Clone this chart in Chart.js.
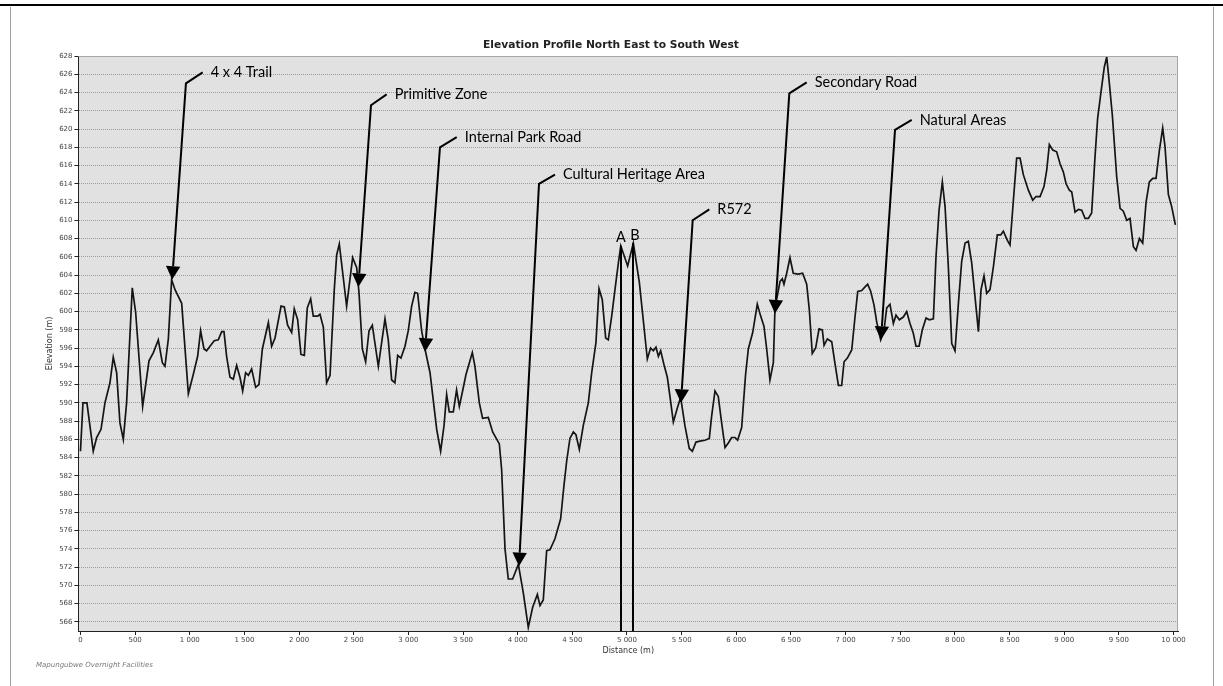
<!DOCTYPE html>
<html>
<head>
<meta charset="utf-8">
<script src="https://cdn.jsdelivr.net/npm/chart.js@4.4.1/dist/chart.umd.min.js"></script>
<style>
  html, body { margin: 0; padding: 0; background: #fff; }
  #wrap { width: 1223px; height: 686px; }
</style>
</head>
<body>
<div id="wrap"><canvas id="perfil" width="1223" height="686"></canvas></div>
<script>
// distance along the profile (m) and elevation (m)
const distance = [
  0, 23, 59, 117, 148, 188, 224, 270, 300, 331, 361, 392, 422, 474, 505, 569, 627, 667, 712, 749,
  773, 804, 834, 865, 926, 987, 1032, 1072, 1099, 1130, 1154, 1185, 1224, 1261, 1292, 1313, 1337, 1368, 1398, 1429,
  1459, 1484, 1511, 1536, 1566, 1603, 1633, 1664, 1719, 1749, 1780, 1835, 1865, 1895, 1932, 1956, 1987, 2017, 2048, 2075,
  2106, 2130, 2170, 2191, 2222, 2252, 2283, 2322, 2344, 2368, 2435, 2490, 2527, 2548, 2579, 2609, 2640, 2670, 2725, 2786,
  2816, 2847, 2877, 2902, 2932, 2969, 2999, 3030, 3060, 3085, 3121, 3152, 3198, 3259, 3295, 3326, 3350, 3374, 3411, 3441,
  3466, 3496, 3527, 3585, 3609, 3649, 3679, 3731, 3771, 3832, 3853, 3884, 3914, 3954, 4006, 4051, 4097, 4137, 4180, 4204,
  4234, 4265, 4295, 4341, 4393, 4423, 4448, 4478, 4509, 4533, 4564, 4600, 4646, 4677, 4716, 4744, 4774, 4805, 4829, 4860,
  4890, 4921, 4943, 5006, 5058, 5113, 5186, 5216, 5241, 5265, 5287, 5308, 5338, 5369, 5393, 5424, 5460, 5491, 5530, 5570,
  5598, 5631, 5668, 5713, 5753, 5775, 5805, 5835, 5866, 5897, 5927, 5957, 5988, 6012, 6049, 6070, 6085, 6110, 6150, 6192,
  6223, 6253, 6278, 6308, 6339, 6354, 6375, 6400, 6421, 6436, 6461, 6491, 6521, 6567, 6607, 6644, 6668, 6695, 6726, 6757,
  6787, 6803, 6833, 6873, 6903, 6934, 6964, 6986, 7016, 7056, 7086, 7111, 7147, 7178, 7202, 7230, 7260, 7284, 7321, 7352,
  7376, 7406, 7437, 7461, 7492, 7528, 7559, 7589, 7620, 7644, 7672, 7702, 7736, 7766, 7803, 7827, 7855, 7885, 7910, 7940,
  7971, 8001, 8032, 8062, 8093, 8123, 8154, 8184, 8215, 8239, 8266, 8291, 8321, 8352, 8388, 8419, 8443, 8480, 8504, 8535,
  8565, 8596, 8626, 8672, 8712, 8742, 8779, 8815, 8840, 8864, 8895, 8931, 8962, 8992, 9017, 9047, 9069, 9099, 9130, 9160,
  9191, 9221, 9251, 9282, 9306, 9337, 9367, 9389, 9413, 9441, 9480, 9511, 9541, 9572, 9602, 9633, 9657, 9688, 9718, 9749,
  9779, 9810, 9840, 9871, 9901, 9922, 9953, 9983, 10017
];
const elevation = [
  584.7, 590.0, 590.0, 584.7, 586.2, 587.1, 590.0, 592.2, 595.0, 593.3, 587.8, 586.0, 590.0, 602.6, 599.9, 589.6, 594.6, 595.5, 596.9, 594.4,
  594.0, 597.0, 603.5, 602.4, 600.9, 591.0, 593.1, 595.1, 597.9, 595.9, 595.7, 596.2, 596.8, 596.9, 597.8, 597.8, 595.1, 592.8, 592.6, 594.1,
  592.8, 591.3, 593.3, 593.0, 593.7, 591.7, 592.0, 595.9, 598.8, 596.2, 597.1, 600.6, 600.5, 598.5, 597.7, 600.3, 599.1, 595.3, 595.2, 600.4,
  601.4, 599.5, 599.5, 599.7, 598.3, 592.2, 593.0, 602.4, 606.2, 607.4, 600.6, 605.9, 604.8, 602.1, 595.9, 594.5, 597.9, 598.5, 594.0, 599.2,
  596.9, 592.5, 592.2, 595.2, 594.9, 596.2, 597.9, 600.6, 602.1, 602.0, 597.9, 595.9, 593.3, 587.1, 584.7, 587.5, 590.9, 589.0, 589.0, 591.4,
  589.6, 591.3, 593.1, 595.5, 594.0, 590.0, 588.3, 588.4, 586.8, 585.5, 582.7, 574.0, 570.7, 570.7, 572.3, 569.2, 565.4, 567.6, 569.0, 567.8,
  568.4, 573.8, 573.9, 575.1, 577.3, 580.9, 583.6, 586.1, 586.8, 586.5, 584.9, 587.5, 590.0, 593.3, 596.6, 602.5, 601.3, 597.1, 596.9, 599.5,
  602.4, 605.3, 607.2, 605.0, 607.5, 603.2, 594.8, 596.0, 595.7, 596.1, 595.1, 595.7, 594.2, 592.8, 590.7, 587.9, 589.4, 590.6, 587.5, 585.0,
  584.7, 585.7, 585.8, 585.9, 586.1, 588.6, 591.3, 590.7, 587.8, 585.1, 585.6, 586.2, 586.2, 585.9, 587.3, 590.7, 593.1, 595.9, 597.7, 600.8,
  599.5, 598.4, 595.9, 592.5, 594.4, 600.4, 601.7, 603.3, 603.6, 603.0, 604.2, 605.9, 604.2, 604.1, 604.2, 603.0, 600.2, 595.4, 596.0, 598.1,
  598.0, 596.3, 597.0, 596.7, 594.3, 591.9, 591.9, 594.5, 594.9, 595.8, 599.4, 602.2, 602.3, 602.7, 603.0, 602.2, 600.7, 598.9, 596.9, 598.0,
  600.4, 600.8, 598.7, 599.6, 599.1, 599.4, 600.0, 598.7, 597.6, 596.2, 596.2, 598.0, 599.3, 599.1, 599.2, 606.0, 611.1, 614.2, 611.5, 604.9,
  596.5, 595.7, 600.9, 605.5, 607.5, 607.7, 605.3, 601.6, 597.8, 602.4, 603.9, 602.0, 602.4, 604.9, 608.4, 608.4, 608.8, 607.8, 607.3, 612.2,
  616.8, 616.8, 615.0, 613.3, 612.2, 612.6, 612.6, 613.7, 615.5, 618.3, 617.7, 617.5, 616.2, 615.3, 614.0, 613.3, 613.1, 610.9, 611.2, 611.1,
  610.2, 610.2, 610.8, 617.0, 621.2, 624.1, 626.8, 627.9, 625.0, 621.4, 614.8, 611.3, 611.0, 610.0, 610.2, 607.1, 606.7, 608.0, 607.5, 612.0,
  614.2, 614.6, 614.6, 617.7, 620.1, 618.1, 612.8, 611.5, 609.5
];

const xTicks = [0, 500, 1000, 1500, 2000, 2500, 3000, 3500, 4000, 4500, 5000,
  5500, 6000, 6500, 7000, 7500, 8000, 8500, 9000, 9500, 10000];
const yTicks = [566, 568, 570, 572, 574, 576, 578, 580, 582, 584, 586, 588, 590, 592, 594, 596,
  598, 600, 602, 604, 606, 608, 610, 612, 614, 616, 618, 620, 622, 624, 626, 628];

// callouts: label, arrow tip, elbow and end of the leader (distance, elevation)
const calloutLabels = ['4 x 4 Trail', 'Primitive Zone', 'Internal Park Road', 'Cultural Heritage Area',
  'R572', 'Secondary Road', 'Natural Areas'];
const calloutTip = [[839, 603.5], [2542, 602.7], [3152, 595.6], [4012, 572.1], [5494, 590.0], [6354, 599.8], [7324, 596.9]];
const calloutElbow = [[965, 625.0], [2658, 622.6], [3289, 618.0], [4195, 614.0], [5601, 610.0], [6485, 623.9], [7452, 619.9]];
const calloutEnd = [[1118, 626.2], [2801, 623.8], [3442, 619.1], [4341, 615.0], [5753, 611.2], [6644, 625.1], [7605, 621.0]];

// section markers A and B
const markerLabels = ['A', 'B'];
const markerDist = [4943, 5056];
const markerElev = [607.2, 607.5];

const chartTitle = 'Elevation Profile North East to South West';
const footerText = 'Mapungubwe Overnight Facilities';

function spaced(v) {
  return String(v).replace(/\B(?=(\d{3})+(?!\d))/g, ' ');
}

const framePlugin = {
  id: 'frame',
  beforeDraw(chart) {
    const {ctx, chartArea, width, height} = chart;
    ctx.save();
    ctx.fillStyle = '#fff';
    ctx.fillRect(0, 0, width, height);
    ctx.fillStyle = '#000';
    ctx.fillRect(0, 4, width, 2);
    ctx.fillStyle = '#a0a0a0';
    ctx.fillRect(10, 7, 1, height);
    ctx.fillRect(1213, 7, 1, height);
    ctx.fillStyle = '#e1e1e1';
    ctx.fillRect(chartArea.left, chartArea.top, chartArea.width, chartArea.height);
    ctx.restore();
  },
  afterDraw(chart) {
    const {ctx, chartArea} = chart;
    ctx.save();
    ctx.strokeStyle = '#a8a8a8';
    ctx.lineWidth = 1;
    ctx.beginPath();
    ctx.moveTo(chartArea.left, chartArea.top + 0.5);
    ctx.lineTo(chartArea.right - 0.5, chartArea.top + 0.5);
    ctx.lineTo(chartArea.right - 0.5, chartArea.bottom);
    ctx.stroke();
    ctx.font = 'italic 7px "DejaVu Sans"';
    ctx.fillStyle = '#777';
    ctx.textBaseline = 'middle';
    ctx.fillText(footerText, 36, 665);
    ctx.restore();
  }
};

const calloutPlugin = {
  id: 'callouts',
  afterDatasetsDraw(chart) {
    const {ctx, chartArea} = chart;
    const x = chart.scales.x, y = chart.scales.y;
    ctx.save();
    ctx.strokeStyle = '#000';
    ctx.fillStyle = '#000';
    ctx.lineWidth = 2;
    ctx.font = '14.5px Lato';

    markerDist.forEach((d, i) => {
      const px = Math.round(x.getPixelForValue(d));
      const top = y.getPixelForValue(markerElev[i]);
      ctx.beginPath();
      ctx.moveTo(px, top);
      ctx.lineTo(px, chartArea.bottom);
      ctx.stroke();
      ctx.textAlign = 'center';
      ctx.textBaseline = 'bottom';
      ctx.fillText(markerLabels[i], px + i * 2, top - 1);
    });

    calloutLabels.forEach((txt, i) => {
      const tx = x.getPixelForValue(calloutTip[i][0]), ty = y.getPixelForValue(calloutTip[i][1]);
      const ex = x.getPixelForValue(calloutElbow[i][0]), ey = y.getPixelForValue(calloutElbow[i][1]);
      const lx = x.getPixelForValue(calloutEnd[i][0]), ly = y.getPixelForValue(calloutEnd[i][1]);
      const ang = Math.atan2(ty - ey, tx - ex);
      const headLen = 13.5, headHalf = 7.2;
      const bx = tx - headLen * Math.cos(ang), by = ty - headLen * Math.sin(ang);

      ctx.beginPath();
      ctx.moveTo(lx, ly);
      ctx.lineTo(ex, ey);
      ctx.lineTo(bx, by);
      ctx.stroke();

      ctx.beginPath();
      ctx.moveTo(tx, ty);
      ctx.lineTo(bx + headHalf * Math.sin(ang), by - headHalf * Math.cos(ang));
      ctx.lineTo(bx - headHalf * Math.sin(ang), by + headHalf * Math.cos(ang));
      ctx.closePath();
      ctx.fill();

      ctx.textAlign = 'left';
      ctx.textBaseline = 'middle';
      ctx.fillText(txt, lx + 8, ly);
    });
    ctx.restore();
  }
};

const points = distance.map((d, i) => ({x: d, y: elevation[i]}));

new Chart(document.getElementById('perfil'), {
  type: 'line',
  data: {
    datasets: [{
      data: points,
      borderColor: '#151515',
      borderWidth: 1.7,
      pointRadius: 0,
      tension: 0,
      fill: false
    }]
  },
  options: {
    responsive: false,
    animation: false,
    devicePixelRatio: 1,
    layout: { padding: { left: 44, right: 45, top: 0, bottom: 0 } },
    plugins: {
      legend: { display: false },
      tooltip: { enabled: false },
      title: {
        display: true,
        text: chartTitle,
        color: '#222',
        font: { family: 'DejaVu Sans', size: 10.7, weight: 'bold', lineHeight: 1 },
        padding: { top: 40, bottom: 5.3 }
      }
    },
    scales: {
      x: {
        type: 'linear',
        min: -18,
        max: 10041,
        afterBuildTicks: s => { s.ticks = xTicks.map(v => ({value: v})); },
        afterFit: s => { s.height = 55; },
        ticks: {
          autoSkip: false,
          maxRotation: 0,
          padding: 1,
          color: '#444',
          font: { family: 'DejaVu Sans', size: 7 },
          callback: v => spaced(v)
        },
        grid: { drawOnChartArea: false, drawTicks: true, tickLength: 4, tickColor: '#222' },
        border: { color: '#222', width: 1 },
        title: {
          display: true,
          text: 'Distance (m)',
          color: '#333',
          font: { family: 'DejaVu Sans', size: 8 },
          padding: { top: 0, bottom: 30 }
        }
      },
      y: {
        min: 565,
        max: 628,
        afterBuildTicks: s => { s.ticks = yTicks.map(v => ({value: v})); },
        afterFit: s => { s.width = 34.5; },
        ticks: {
          autoSkip: false,
          padding: 2,
          color: '#444',
          font: { family: 'DejaVu Sans', size: 7 }
        },
        grid: { color: '#9c9c9c', lineWidth: 1, tickLength: 4, tickColor: '#222' },
        border: { color: '#222', width: 1, dash: [1, 1] },
        title: {
          display: true,
          text: 'Elevation (m)',
          color: '#333',
          font: { family: 'DejaVu Sans', size: 8 },
          padding: { top: 1.2, bottom: 0 }
        }
      }
    }
  },
  plugins: [framePlugin, calloutPlugin]
});
</script>
</body>
</html>
